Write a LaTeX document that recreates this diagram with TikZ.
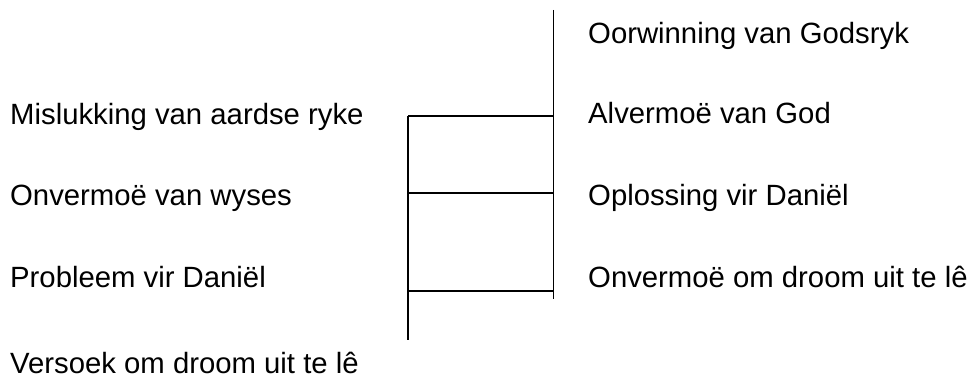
\documentclass[tikz,border=0pt]{standalone}
\usepackage{fontspec}
\setmainfont{Liberation Sans}
\begin{document}
\begin{tikzpicture}[x=1pt,y=-1pt,
  lbl/.style={anchor=base west, inner sep=0pt, font=\fontsize{29.3}{35}\selectfont},
  bar/.style={line width=1.7pt, black}]
\useasboundingbox (0,0) rectangle (970,385);
% left labels
\node[lbl] (l1) at (10,125) {Mislukking van aardse ryke};
\node[lbl] (l2) at (10,206) {Onvermoë van wyses};
\node[lbl] (l3) at (10,287) {Probleem vir Daniël};
\node[lbl] (l4) at (10,373) {Versoek om droom uit te lê};
% right labels
\node[lbl] (r1) at (588,44) {Oorwinning van Godsryk};
\node[lbl] (r2) at (588,124) {Alvermoë van God};
\node[lbl] (r3) at (588,206) {Oplossing vir Daniël};
\node[lbl] (r4) at (588,287) {Onvermoë om droom uit te lê};
% structure coordinates
\coordinate (lt) at (408,116);
\coordinate (lb) at (408,340);
\coordinate (rt) at (553.5,10);
\coordinate (rb) at (553.5,299);
\coordinate (h1l) at (408,116);
\coordinate (h1r) at (553.5,116);
\coordinate (h2l) at (408,193);
\coordinate (h2r) at (553.5,193);
\coordinate (h3l) at (408,291);
\coordinate (h3r) at (553.5,291);
\draw[bar] (lt) -- (lb);
\draw[bar] (rt) -- (rb);
\draw[bar] (h1l) -- (h1r);
\draw[bar] (h2l) -- (h2r);
\draw[bar] (h3l) -- (h3r);
\end{tikzpicture}
\end{document}
